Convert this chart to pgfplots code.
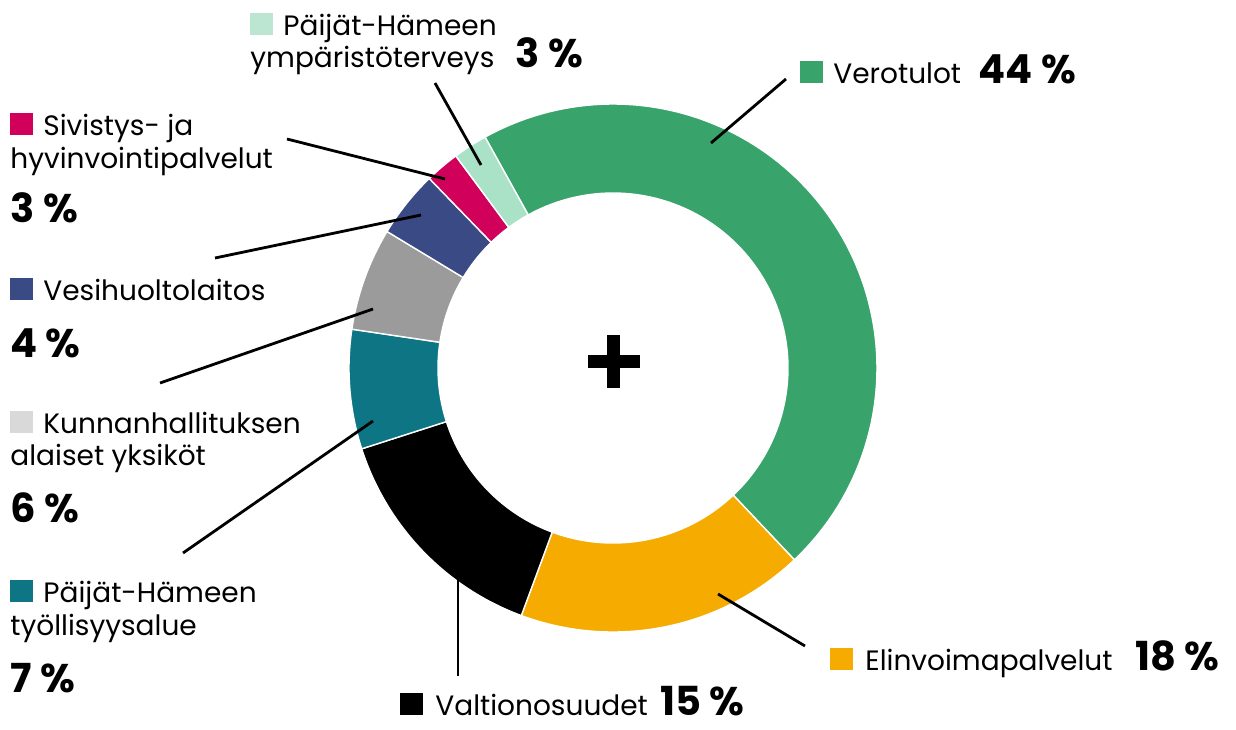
\documentclass[border=0pt]{standalone}
\usepackage{fontspec}
\setmainfont{Poppins}
\usepackage{pgfplots}
\usepackage{pgfplotstable}
\pgfplotsset{compat=1.18}

\definecolor{cVero}{HTML}{38A36B}
\definecolor{cElin}{HTML}{F5AB00}
\definecolor{cValt}{HTML}{000000}
\definecolor{cTyo}{HTML}{0E7584}
\definecolor{cKunn}{HTML}{9B9B9B}
\definecolor{cKunnKey}{HTML}{D9D9D9}
\definecolor{cVesi}{HTML}{394A84}
\definecolor{cSiv}{HTML}{D1005A}
\definecolor{cYmp}{HTML}{A9E2C6}
\definecolor{cYmpKey}{HTML}{BDE6D2}

% shares as drawn in the ring (the printed labels are rounded differently)
\pgfplotstableread{
share col
46.0 cVero
17.7 cElin
14.4 cValt
7.3  cTyo
6.3  cKunn
4.1  cVesi
2.1  cSiv
2.1  cYmp
}\shares

\newcommand\lbl{\fontsize{14}{16}\selectfont}
\newcommand\pct{\fontsize{20}{22}\selectfont\bfseries}
\newcommand\key[1]{\textcolor{#1}{\rule{11.5pt}{11pt}}}

\begin{document}
\begin{tikzpicture}
% start / end angles of the sectors, clockwise from 119 deg
\pgfplotstablegetrowsof{\shares}
\pgfmathtruncatemacro\last{\pgfplotsretval-1}
\gdef\total{0}
\foreach \i in {0,...,\last}{
  \pgfplotstablegetelem{\i}{share}\of\shares
  \pgfmathsetmacro\tmp{\total+\pgfplotsretval}
  \xdef\total{\tmp}
}
\gdef\acc{119}
\foreach \i in {0,...,\last}{
  \pgfplotstablegetelem{\i}{share}\of\shares
  \pgfmathsetmacro\aend{\acc-\pgfplotsretval/\total*360}
  \expandafter\xdef\csname aS\i\endcsname{\acc}
  \expandafter\xdef\csname aE\i\endcsname{\aend}
  \xdef\acc{\aend}
  \pgfplotstablegetelem{\i}{col}\of\shares
  \expandafter\xdef\csname cl\i\endcsname{\pgfplotsretval}
}
\begin{axis}[
  scale only axis, width=618pt, height=364.5pt,
  xmin=0, xmax=1236, ymin=0, ymax=729, y dir=reverse,
  hide axis, clip=false,
]
% each sector: outer arc (t in 0..1), radial edge (1..2), inner arc back (2..3)
\pgfplotsinvokeforeach{0,...,7}{
  \addplot[fill=\csname cl#1\endcsname, draw=white, line width=0.7pt,
    domain=0:3, samples=301, variable=\t]
    ({613+(264-89*min(max(\t-1,0),1))*cos(\csname aS#1\endcsname
        +(\csname aE#1\endcsname-\csname aS#1\endcsname)*min(\t,1)
        +(\csname aS#1\endcsname-\csname aE#1\endcsname)*max(\t-2,0))},
     {368-(264-89*min(max(\t-1,0),1))*sin(\csname aS#1\endcsname
        +(\csname aE#1\endcsname-\csname aS#1\endcsname)*min(\t,1)
        +(\csname aS#1\endcsname-\csname aE#1\endcsname)*max(\t-2,0))}) -- cycle;
}

% plus sign in the middle
\addplot[black, line width=6.5pt] coordinates {(588,361.5) (640,361.5)};
\addplot[black, line width=6.5pt] coordinates {(613.5,335) (613.5,388)};

% leader lines
\addplot[black, line width=1.4pt] coordinates {(435,83) (481,165)};
\addplot[black, line width=1.4pt] coordinates {(287,139) (445,179)};
\addplot[black, line width=1.4pt] coordinates {(215,258) (421,215)};
\addplot[black, line width=1.4pt] coordinates {(160,383) (373,309)};
\addplot[black, line width=1.4pt] coordinates {(183,553) (373,421)};
\addplot[black, line width=1.4pt] coordinates {(458,580) (458,676)};
\addplot[black, line width=1.4pt] coordinates {(718,594) (805,646)};
\addplot[black, line width=1.4pt] coordinates {(711,143) (786,79)};

\begin{scope}[every node/.style={anchor=base west, inner sep=0pt, font=\lbl}]
% Päijät-Hämeen ympäristöterveys
\node at (250,35) {\key{cYmpKey}};
\node at (283,35) {Päijät-Hämeen};
\node at (250,67) {ympäristöterveys};
\node[font=\pct] at (515,67) {3 \%};
% Sivistys- ja hyvinvointipalvelut
\node at (10,135) {\key{cSiv}};
\node at (43,135) {Sivistys- ja};
\node at (10,168) {hyvinvointipalvelut};
\node[font=\pct] at (10,222) {3 \%};
% Vesihuoltolaitos
\node at (10,300) {\key{cVesi}};
\node at (43,300) {Vesihuoltolaitos};
\node[font=\pct] at (10,357) {4 \%};
% Kunnanhallituksen alaiset yksiköt
\node at (10,433) {\key{cKunnKey}};
\node at (43,433) {Kunnanhallituksen};
\node at (10,465) {alaiset yksiköt};
\node[font=\pct] at (10,522) {6 \%};
% Päijät-Hämeen työllisyysalue
\node at (10,602) {\key{cTyo}};
\node at (43,602) {Päijät-Hämeen};
\node at (10,635) {työllisyysalue};
\node[font=\pct] at (10,692) {7 \%};
% Verotulot
\node at (800,83) {\key{cVero}};
\node at (833,83) {Verotulot};
\node[font=\pct] at (978,83) {44 \%};
% Elinvoimapalvelut
\node at (830,670) {\key{cElin}};
\node at (865,670) {Elinvoimapalvelut};
\node[font=\pct] at (1135,670) {18 \%};
% Valtionosuudet
\node at (400,715) {\key{cValt}};
\node at (435,715) {Valtionosuudet};
\node[font=\pct] at (660,715) {15 \%};
\end{scope}
\end{axis}
\pgfresetboundingbox
\path[use as bounding box] (current axis.south west) rectangle (current axis.north east);
\end{tikzpicture}
\end{document}
